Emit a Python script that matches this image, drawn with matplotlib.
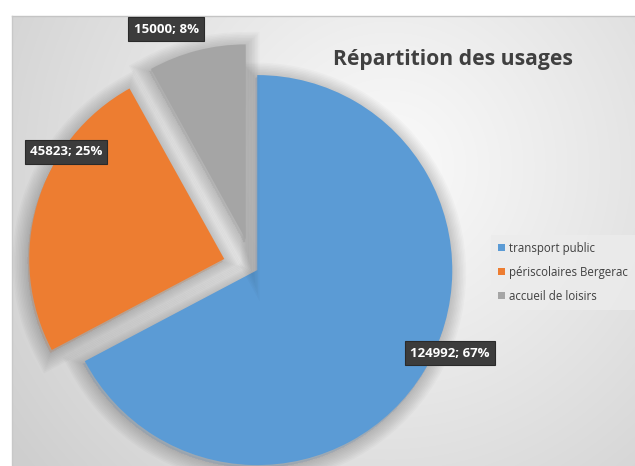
import numpy as np
import matplotlib
matplotlib.use("Agg")
import matplotlib.pyplot as plt
import matplotlib.patheffects as pe

# ---- data ----
categories = ["transport public", "périscolaires Bergerac", "accueil de loisirs"]
values = [124992, 45823, 15000]
title = "Répartition des usages"

# ---- style / layout ----
colors = ["#5B9BD5", "#ED7D31", "#A5A5A5"]
explode_px = [5, 30, 29]
center = (253.0, 198.5)
radius = 195
label_xy = [(450, 113), (66, 314), (166, 437)]

W, H = 635, 466
fig = plt.figure(figsize=(W / 100, H / 100), dpi=100, facecolor="white")
ax = fig.add_axes([0, 0, 1, 1])
ax.set_xlim(0, W)
ax.set_ylim(0, H)
ax.set_axis_off()

# background radial gradient for the chart area (x 12..635, y 0..450)
x0, x1, y0, y1 = 12, W, 0, 450
gx = np.linspace(x0, x1, 400)
gy = np.linspace(y0, y1, 300)
X, Y = np.meshgrid(gx, gy)
cx, cy = 390, 300
d = np.sqrt((X - cx) ** 2 + (Y - cy) ** 2)
t = np.clip(d / 470, 0, 1)
val = 0.98 - 0.17 * t ** 1.1
img = np.dstack([val, val, val])
ax.imshow(img, extent=(x0, x1, y0, y1), origin="lower", zorder=0, aspect="auto",
          interpolation="bilinear")
ax.plot([x0, x1], [y1, y1], color="#c4c4c4", lw=1, zorder=1)
ax.plot([x0, x0], [y0, y1], color="#c8c8c8", lw=1, zorder=1)

wedges, _ = ax.pie(values, colors=colors, startangle=90, counterclock=False,
                   explode=explode_px, radius=radius, center=center, frame=True,
                   wedgeprops=dict(linewidth=0, zorder=3))
ax.set_xlim(0, W)
ax.set_ylim(0, H)
ax.set_axis_off()

shadow = []
for k in range(1, 11):
    shadow.append(pe.Stroke(offset=(-1, -2), linewidth=2.2 * k, foreground="black",
                            alpha=0.018))
shadow.append(pe.Normal())
for w in wedges:
    w.set_path_effects(shadow)

total = sum(values)
for v, (lx, ly) in zip(values, label_xy):
    pct = round(100 * v / total)
    ax.text(lx, ly, f"{v}; {pct}%", ha="center", va="center", color="white",
            fontsize=9.5, fontweight="bold", family=["Open Sans", "DejaVu Sans"],
            zorder=6,
            bbox=dict(boxstyle="square,pad=0.38", fc="#3c3c3c", ec="#2a2a2a", lw=0.8))

ax.text(333, 407, title, ha="left", va="center", fontsize=15.2, fontweight="bold",
        color="#404040", family=["Open Sans", "DejaVu Sans"], zorder=6)

leg = ax.legend(wedges, categories, loc="upper left",
                bbox_to_anchor=(485 / W, 1 - 229 / H), frameon=True,
                prop=dict(family=["Open Sans", "DejaVu Sans"], size=8.3),
                handlelength=0.65, handleheight=0.65, handletextpad=0.35,
                labelspacing=0.95, borderpad=0.6, labelcolor="#404040")
leg.get_frame().set_facecolor("#ececec")
leg.get_frame().set_edgecolor("none")
leg.get_frame().set_alpha(0.8)
leg.get_frame().set_boxstyle("square", pad=0)
for h in leg.legend_handles:
    h.set_path_effects([])

fig.savefig("out.png", dpi=100, facecolor="white")
